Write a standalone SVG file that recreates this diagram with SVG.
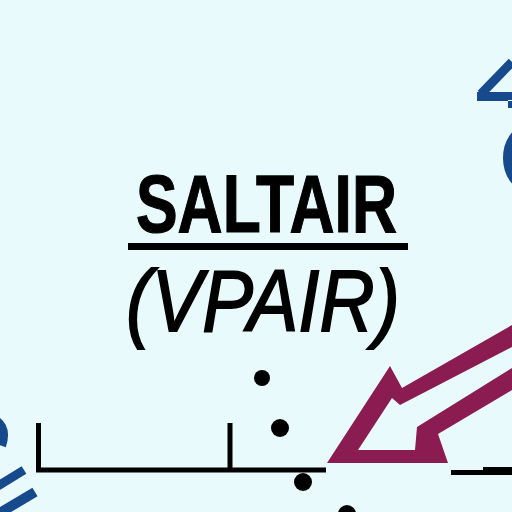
<svg xmlns="http://www.w3.org/2000/svg" width="512" height="512" viewBox="0 0 512 512">
  <style>
    .blk { fill: #000; }
    .ln { stroke: #000; stroke-width: 5; fill: none; stroke-linecap: butt; }
    .blue { stroke: #174a8c; fill: none; }
    .title { font-family: "Liberation Sans", Arial, sans-serif; font-weight: bold; fill: #000; stroke: #000; stroke-width: 1.2; }
    .sub { font-family: "Liberation Sans", Arial, sans-serif; font-style: italic; fill: #000; stroke: #000; stroke-width: 1.8; }
  </style>
  <rect x="0" y="0" width="512" height="512" fill="#e9fafc"/>

  <g id="blue-marks">
    <path class="blue" d="M512,62 L481,94" stroke-width="9"/>
    <path d="M477,92 L512,92 L512,100 L508,100 L508,108 L512,108 L512,101 L477,101 Z" fill="#174a8c"/>
    <ellipse class="blue" cx="528" cy="158" rx="20" ry="28" stroke-width="10"/>
    <path class="blue" d="M-4,420 Q8,428 2,446" stroke-width="8"/>
    <path class="blue" d="M-2,486 L24,470" stroke-width="9"/>
    <path class="blue" d="M-2,514 L35,492" stroke-width="10"/>
  </g>

  <g id="label">
    <text class="title" x="136" y="232" font-size="82" textLength="261" lengthAdjust="spacingAndGlyphs">SALTAIR</text>
    <rect x="128" y="243" width="280" height="7" class="blk"/>
    <text class="sub" x="126" y="331" font-size="88" textLength="274" lengthAdjust="spacingAndGlyphs">(VPAIR)</text>
  </g>

  <g id="airfield">
    <path class="ln" d="M38.5,423 L38.5,470 L326,470"/>
    <path class="ln" d="M230,423 L230,470"/>
    <path class="blk" d="M451,470 L483,470 L483,467 L512,467 L512,475 L451,475 Z"/>
    <circle cx="262" cy="378" r="8" class="blk"/>
    <circle cx="280" cy="428" r="9" class="blk"/>
    <circle cx="303" cy="482" r="9" class="blk"/>
    <circle cx="347" cy="514" r="9" class="blk"/>
  </g>

  <g id="connectors">
    <path fill="#8a1c52" fill-rule="evenodd" d="M327,463 L390,366 L402,388 L512,325 L512,390 L438,434 L448,463 Z M358,450 L392,398 L400,405 L512,347 L512,368 L417,427 L415,450 Z"/>
  </g>
</svg>
